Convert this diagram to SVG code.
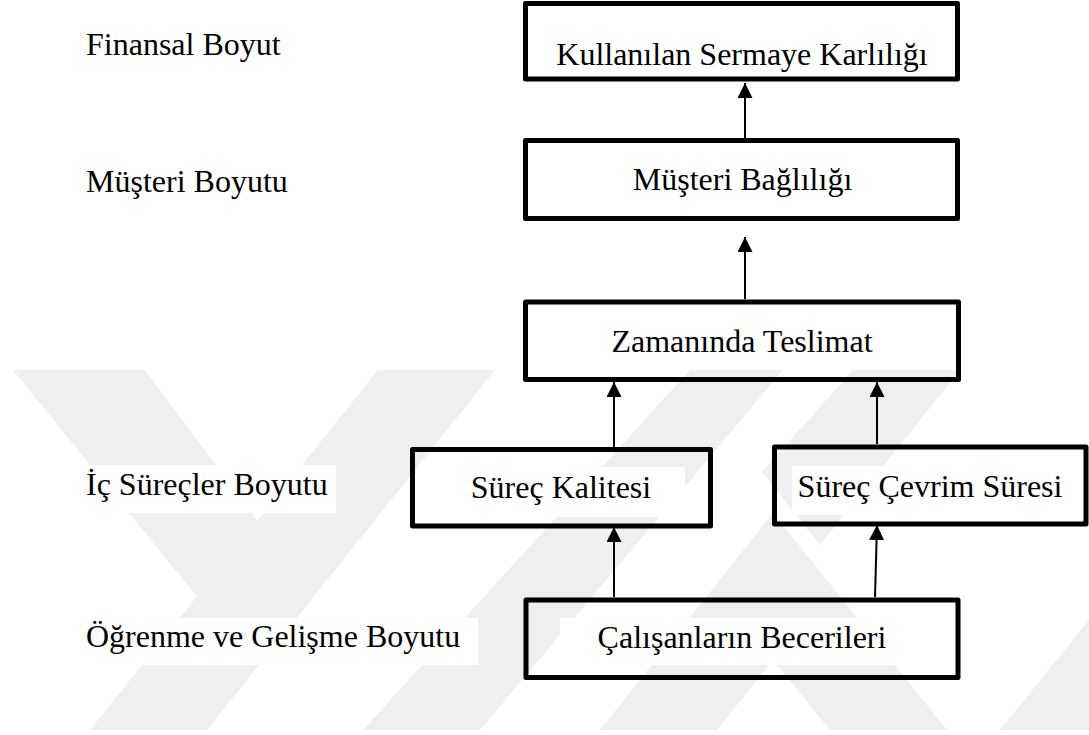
<svg xmlns="http://www.w3.org/2000/svg" width="1089" height="735" viewBox="0 0 1089 735">
  <style>
    .box { fill: none; stroke: #000; stroke-width: 5; stroke-linejoin: round; }
    .lbl { font-family: "Liberation Serif", "Times New Roman", serif; font-size: 32px; fill: #000; }
    .mid { text-anchor: middle; }
    .link { stroke: #000; stroke-width: 2; fill: none; marker-end: url(#head); }
    .wm { fill: #efefef; }
    .bg { fill: #fff; }
  </style>
  <defs>
    <marker id="head" markerUnits="userSpaceOnUse" markerWidth="16" markerHeight="16" refX="15" refY="7.5" orient="auto">
      <path d="M0,0 L15,7.5 L0,15 Z" fill="#000"/>
    </marker>
    <clipPath id="wmclip">
      <rect x="0" y="370" width="1089" height="360"/>
    </clipPath>
  </defs>

  <rect x="0" y="0" width="1089" height="735" fill="#fff"/>

  <!-- faint striped emblem in the background -->
  <g id="emblem" clip-path="url(#wmclip)">
    <polygon class="wm" points="13,370 145,370 258,522 198,598"/>
    <polygon class="wm" points="90,730 207,730 495,370 378,370"/>
    <polygon class="wm" points="363,730 480,730 783,370 690,370"/>
    <polygon class="wm" points="600,730 717,730 773,660 830,730 947,730 773,513"/>
    <polygon class="wm" points="853,370 960,370 820,545 762,472"/>
    <polygon class="wm" points="1000,730 1089,730 1089,620"/>
  </g>

  <!-- dimension labels -->
  <g id="dimensions">
    <text class="lbl" x="86" y="55">Finansal Boyut</text>
    <text class="lbl" x="86" y="192">Müşteri Boyutu</text>
    <rect class="bg" x="85" y="465" width="251" height="48"/>
    <text class="lbl" x="86" y="495">İç Süreçler Boyutu</text>
    <rect class="bg" x="85" y="618" width="393" height="47"/>
    <text class="lbl" x="86" y="647">Öğrenme ve Gelişme Boyutu</text>
  </g>

  <g id="connectors">
    <line class="link" x1="745" y1="138" x2="745" y2="83"/>
    <line class="link" x1="745" y1="299" x2="745" y2="237"/>
    <line class="link" x1="614" y1="447" x2="614" y2="382"/>
    <line class="link" x1="877" y1="444" x2="877" y2="382"/>
    <line class="link" x1="614" y1="597" x2="614" y2="527"/>
    <line class="link" x1="875" y1="597" x2="877" y2="525"/>
  </g>

  <g id="n-sermaye">
    <rect class="box" x="525.5" y="3.5" width="432" height="75.5"/>
    <text class="lbl mid" x="742" y="65">Kullanılan Sermaye Karlılığı</text>
  </g>

  <g id="n-bagliligi">
    <rect class="box" x="525.5" y="140.5" width="432" height="78"/>
    <text class="lbl mid" x="742.5" y="190">Müşteri Bağlılığı</text>
  </g>

  <g id="n-teslimat">
    <rect class="box" x="525.5" y="302" width="433" height="77.5"/>
    <text class="lbl mid" x="742" y="352">Zamanında Teslimat</text>
  </g>

  <g id="n-kalite">
    <rect class="box" x="412.5" y="449.5" width="298" height="76.5"/>
    <rect class="bg" x="427" y="467" width="258" height="50"/>
    <text class="lbl mid" x="561" y="498">Süreç Kalitesi</text>
  </g>

  <g id="n-cevrim">
    <rect class="box" x="774.5" y="447" width="311.5" height="77"/>
    <rect class="bg" x="792" y="466" width="290" height="49"/>
    <text class="lbl mid" x="930" y="497">Süreç Çevrim Süresi</text>
  </g>

  <g id="n-beceriler">
    <rect class="box" x="526" y="600" width="432" height="77.5"/>
    <rect class="bg" x="560" y="618" width="365" height="47"/>
    <text class="lbl mid" x="742" y="648">Çalışanların Becerileri</text>
  </g>
</svg>
